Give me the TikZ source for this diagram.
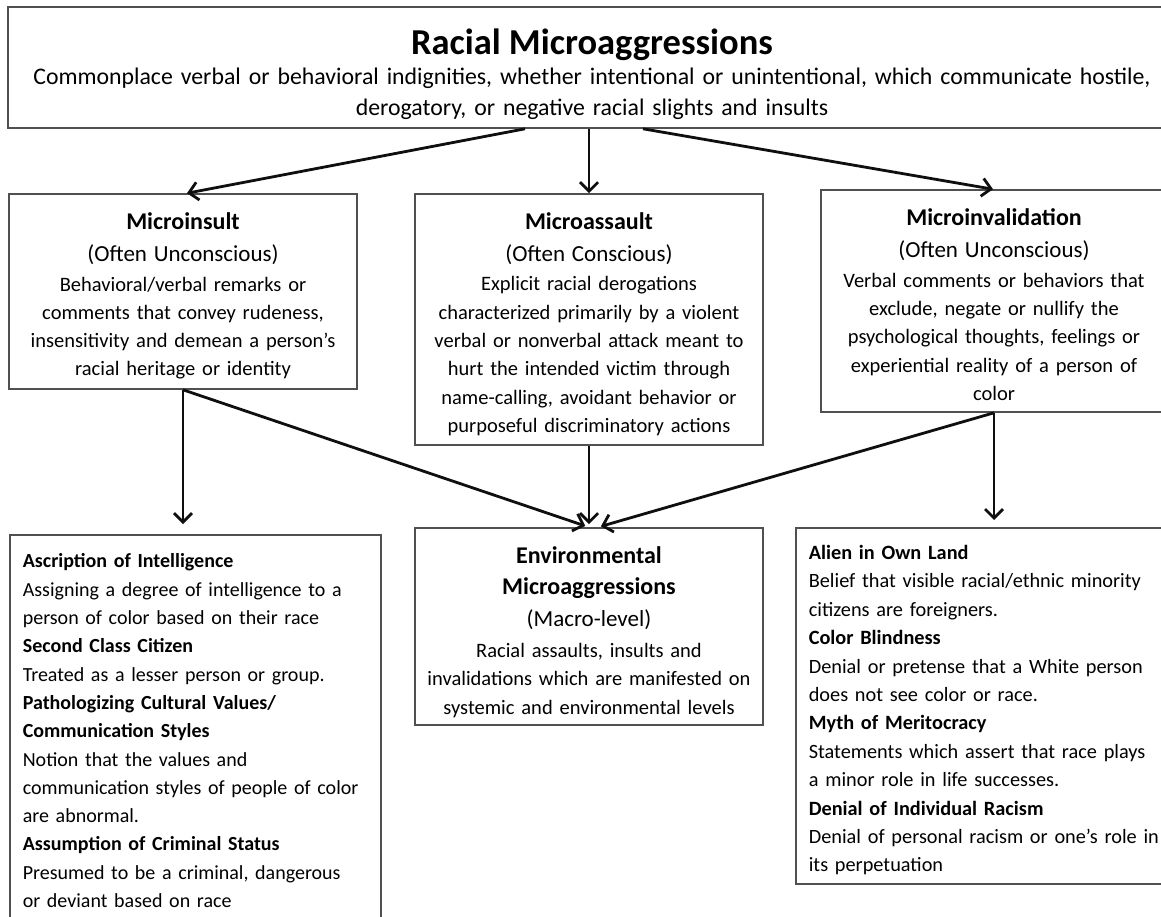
\documentclass[tikz,border=0pt]{standalone}
\usepackage{fontspec}
\setmainfont{Carlito}
\usepackage{xcolor}
\usetikzlibrary{arrows.meta}
\definecolor{maBorder}{RGB}{80,80,80}
\definecolor{maArrow}{RGB}{15,15,15}
\newcommand{\maBody}{\fontsize{20.5}{28.3}\selectfont}
\newcommand{\maList}{\fontsize{20}{28.3}\selectfont}
\newcommand{\maHead}{\fontsize{24}{28}\selectfont\bfseries}
\newcommand{\maParen}{\fontsize{23}{28}\selectfont}
\tikzset{
  mabox/.style={draw=maBorder, line width=1.6pt, fill=white, inner sep=0pt, align=center, font=\maBody},
  listbox/.style={draw=maBorder, line width=1.6pt, fill=white, inner xsep=13pt, inner ysep=0pt, align=left, anchor=north west, font=\maList},
  maarrow/.style={draw=maArrow, line width=2.8pt, -{Straight Barb[length=9pt,width=18pt]}},
}

\begin{document}
\begin{tikzpicture}[x=1pt, y=-1pt]

%
\useasboundingbox (0,0) rectangle (1161,916);
\fill[white] (0,0) rectangle (1161,916);

%
\node[mabox, minimum width=1168, minimum height=121, text width=1150,
      font=\fontsize{23.8}{31}\selectfont] (top) at (592,67.5)
{\rule{0pt}{40pt}{\fontsize{36.5}{36}\selectfont\bfseries Racial Microaggressions}\\[-1pt]
 Commonplace verbal or behavioral indignities, whether intentional or unintentional, which communicate hostile,\\
 derogatory, or negative racial slights and insults};

%
\node[mabox, minimum width=348, minimum height=195, text width=340] (insult) at (183,291.5)
{\rule{0pt}{26pt}{\maHead Microinsult}\\[4pt]
 {\maParen (Often Unconscious)}\\[1pt]
 Behavioral/verbal remarks or\\
 comments that convey rudeness,\\
 insensitivity and demean a person’s\\
 racial heritage or identity};

%
\node[mabox, minimum width=348, minimum height=251, text width=340] (assault) at (589,319.5)
{\rule{0pt}{26pt}{\maHead Microassault}\\[4pt]
 {\maParen (Often Conscious)}\\[1pt]
 Explicit racial derogations\\
 characterized primarily by a violent\\
 verbal or nonverbal attack meant to\\
 hurt the intended victim through\\
 name-calling, avoidant behavior or\\
 purposeful discriminatory actions};

%
\node[mabox, minimum width=346, minimum height=222, text width=346] (invalid) at (994,301)
{\rule{0pt}{24pt}{\maHead Microinvalidation}\\[4pt]
 {\maParen (Often Unconscious)}\\[1pt]
 Verbal comments or behaviors that\\
 exclude, negate or nullify the\\
 psychological thoughts, feelings or\\
 experiential reality of a person of\\
 color};

%
\node[mabox, minimum width=348, minimum height=197, text width=340] (env) at (589,626.5)
{\rule{0pt}{28pt}{\maHead Environmental}\\[3pt]
 {\maHead Microaggressions}\\[3pt]
 {\maParen (Macro-level)}\\[3pt]
 Racial assaults, insults and\\
 invalidations which are manifested on\\
 systemic and environmental levels};

%
\node[listbox, text width=345, minimum height=392] (ascription) at (9,534)
{\textbf{Ascription of Intelligence}\\
 Assigning a degree of intelligence to a\\
 person of color based on their race\\
 \textbf{Second Class Citizen}\\
 Treated as a lesser person or group.\\
 \textbf{Pathologizing Cultural Values/}\\
 \textbf{Communication Styles}\\
 Notion that the values and\\
 communication styles of people of color\\
 are abnormal.\\
 \textbf{Assumption of Criminal Status}\\
 Presumed to be a criminal, dangerous\\
 or deviant based on race};

%
\node[listbox, text width=360, minimum height=356,
      font=\fontsize{20.3}{28.4}\selectfont] (alien) at (795,527)
{\rule{0pt}{23pt}\textbf{Alien in Own Land}\\
 Belief that visible racial/ethnic minority\\
 citizens are foreigners.\\
 \textbf{Color Blindness}\\
 Denial or pretense that a White person\\
 does not see color or race.\\
 \textbf{Myth of Meritocracy}\\
 Statements which assert that race plays\\
 a minor role in life successes.\\
 \textbf{Denial of Individual Racism}\\
 Denial of personal racism or one’s role in\\
 its perpetuation};

%
\draw[maarrow] ([xshift=-67pt]top.south) -- ([xshift=4pt]insult.north);
\draw[maarrow] (top.south -| assault.north) -- (assault.north);
\draw[maarrow] ([xshift=51pt]top.south) -- ([xshift=-1pt]invalid.north);

%
\draw[maarrow, shorten >=10pt] (insult.south) -- (insult.south |- ascription.north);
\draw[maarrow, shorten >=4pt] (insult.south) -- (env.north);
\draw[maarrow, shorten >=3pt] (assault.south) -- (env.north);
\draw[maarrow, shorten >=3pt] (invalid.south) -- ([xshift=9pt]env.north);
\draw[maarrow, shorten >=7pt] (invalid.south) -- (invalid.south |- alien.north);

\end{tikzpicture}
\end{document}
